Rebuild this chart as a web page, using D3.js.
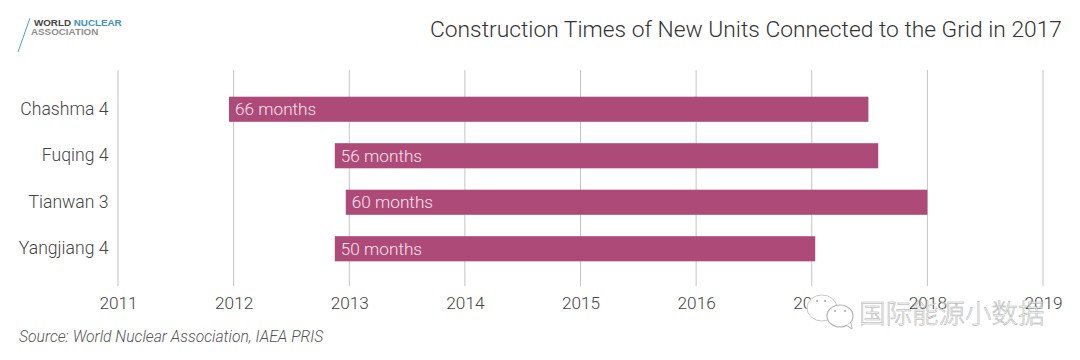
<!DOCTYPE html>
<html>
<head>
<meta charset="utf-8">
<script src="https://cdnjs.cloudflare.com/ajax/libs/d3/7.8.5/d3.min.js"></script>
<style>
  html, body { margin: 0; padding: 0; background: #fff; }
  svg { display: block; }
  text { font-family: Roboto, "Liberation Sans", sans-serif; font-weight: 300; }
</style>
</head>
<body>
<script>
const units = ['Chashma 4', 'Fuqing 4', 'Tianwan 3', 'Yangjiang 4'];
const startYears = [2011.96, 2012.875, 2012.97, 2012.875];
const endYears = [2017.49, 2017.575, 2018.0, 2017.03];
const monthLabels = ['66 months', '56 months', '60 months', '50 months'];
const yearTicks = [2011, 2012, 2013, 2014, 2015, 2016, 2017, 2018, 2019];

const width = 1080, height = 360;
const svg = d3.select('body').append('svg')
  .attr('width', width)
  .attr('height', height);

const x = d3.scaleLinear().domain([2011, 2019]).range([118, 1043]);
const y = d3.scaleBand().domain(units).range([86, 272]).paddingInner(0.46).paddingOuter(0.23);

// grid lines
svg.append('g')
  .selectAll('line')
  .data(yearTicks)
  .join('line')
  .attr('x1', d => x(d))
  .attr('x2', d => x(d))
  .attr('y1', 70)
  .attr('y2', 286)
  .attr('stroke', '#c4c4c4')
  .attr('stroke-width', 1);

// bars
svg.append('g')
  .selectAll('rect')
  .data(units)
  .join('rect')
  .attr('x', (d, i) => x(startYears[i]))
  .attr('y', d => y(d))
  .attr('width', (d, i) => x(endYears[i]) - x(startYears[i]))
  .attr('height', y.bandwidth())
  .attr('fill', '#ad4a78');

// bar labels
svg.append('g')
  .selectAll('text')
  .data(units)
  .join('text')
  .attr('x', (d, i) => x(startYears[i]) + 6)
  .attr('y', d => y(d) + y.bandwidth() / 2 + 6)
  .attr('font-size', 17.2)
  .attr('fill', '#fbe3ee')
  .text((d, i) => monthLabels[i]);

// unit names
svg.append('g')
  .attr('transform', 'translate(108.5,0)')
  .call(d3.axisLeft(y).tickSize(0).tickPadding(0))
  .call(g => g.select('.domain').remove())
  .selectAll('text')
  .attr('font-size', 17.6)
  .attr('fill', '#444');

// year axis
svg.append('g')
  .attr('transform', 'translate(0,289)')
  .call(d3.axisBottom(x).tickValues(yearTicks).tickFormat(d3.format('d')).tickSize(0).tickPadding(8))
  .call(g => g.select('.domain').remove())
  .selectAll('text')
  .attr('font-size', 17.2)
  .attr('fill', '#444');

// title
svg.append('text')
  .attr('x', 1062)
  .attr('y', 37)
  .attr('text-anchor', 'end')
  .attr('font-size', 22.8)
  .attr('fill', '#333')
  .text('Construction Times of New Units Connected to the Grid in 2017');

// source
svg.append('text')
  .attr('x', 19)
  .attr('y', 342)
  .attr('font-size', 15.7)
  .attr('font-style', 'italic')
  .attr('fill', '#555')
  .text('Source: World Nuclear Association, IAEA PRIS');

// logo
const logo = svg.append('g');
logo.append('line')
  .attr('x1', 30).attr('y1', 18)
  .attr('x2', 18).attr('y2', 52)
  .attr('stroke', '#4aa5b5')
  .attr('stroke-width', 1);
const logoTop = logo.append('text')
  .attr('x', 34).attr('y', 26)
  .attr('font-size', 9.8)
  .style('font-family', '"Liberation Sans", sans-serif')
  .style('font-weight', 700);
logoTop.append('tspan').attr('fill', '#444').text('WORLD ');
logoTop.append('tspan').attr('fill', '#3f93bd').text('NUCLEAR');
logo.append('text')
  .attr('x', 31).attr('y', 35)
  .attr('font-size', 9.8)
  .attr('fill', '#8f8f8f')
  .style('font-family', '"Liberation Sans", sans-serif')
  .style('font-weight', 700)
  .text('ASSOCIATION');

// watermark
const mark = svg.append('g');
mark.append('ellipse')
  .attr('cx', 822).attr('cy', 308)
  .attr('rx', 15).attr('ry', 13)
  .attr('fill', '#fff')
  .attr('stroke', '#c8c8c8')
  .attr('stroke-width', 1);
mark.append('ellipse')
  .attr('cx', 840).attr('cy', 316)
  .attr('rx', 13).attr('ry', 11)
  .attr('fill', '#fff')
  .attr('stroke', '#b5b5b5')
  .attr('stroke-width', 1.2);
mark.append('path')
  .attr('d', 'M846 325 L852 329 L851 323')
  .attr('fill', '#fff')
  .attr('stroke', '#b5b5b5')
  .attr('stroke-width', 1);
mark.selectAll('circle')
  .data([[817, 301], [825, 301], [835, 311], [845, 311]])
  .join('circle')
  .attr('cx', d => d[0])
  .attr('cy', d => d[1])
  .attr('r', 1)
  .attr('fill', '#aaa');
mark.append('text')
  .attr('x', 859).attr('y', 323)
  .attr('font-size', 26.5)
  .attr('fill', '#fff')
  .attr('fill-opacity', 0.7)
  .attr('stroke', '#aaa')
  .attr('stroke-width', 0.5)
  .style('font-family', '"Noto Sans CJK SC", sans-serif')
  .text('国际能源小数据');
</script>
</body>
</html>
